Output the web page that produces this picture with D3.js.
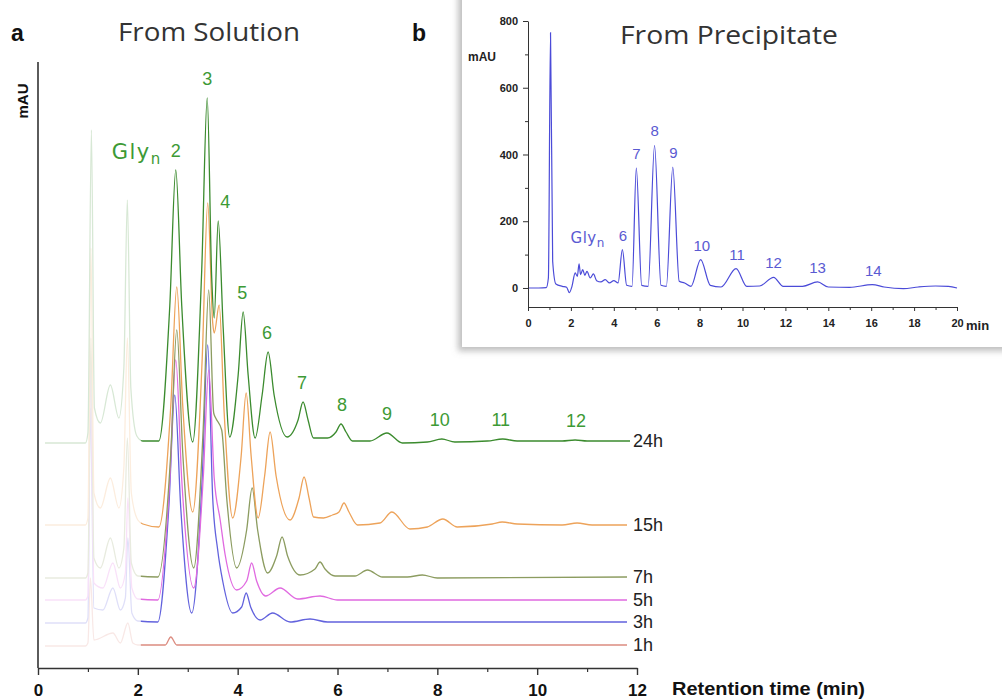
<!DOCTYPE html>
<html>
<head>
<meta charset="utf-8">
<script src="https://cdn.jsdelivr.net/npm/d3@7"></script>
<style>
  body { margin: 0; background: #fff; }
  svg { display: block; }
</style>
</head>
<body>
<svg id="chart" width="1002" height="699"></svg>
<script>
// ---- data: panel a, chromatograms of the solution (time in min, signal in mAU, offset stacked) ----
const trace24h = [[0.14,225],[0.95,225],[1.0,235],[1.07,538],[1.13,260],[1.25,245],[1.45,283],[1.62,250],[1.72,300],[1.79,468],[1.86,280],[1.98,232],[2.1,227],
  [2.42,227],[2.64,362],[2.76,498],[2.88,362],[3.1,226],[3.28,398],[3.39,570],[3.48,390],[3.53,350],[3.61,447],[3.71,340],[3.84,231],
  [4.01,293],[4.11,356],[4.21,293],[4.35,230],[4.49,273],[4.61,316],[4.73,273],[4.99,231],[5.21,248],[5.31,266],[5.41,248],[5.52,230],[5.8,230],
  [5.97,236],[6.07,244],[6.17,236],[6.3,227],[6.65,227],[6.99,235],[7.3,225],[7.8,226],[8.09,229],[8.35,226],[9.0,227],[9.31,229],[9.6,227],
  [10.5,227],[10.76,228],[11.0,227],[11.86,227]];
const trace15h = [[0.14,143],[0.95,143],[1.0,150],[1.06,420],[1.12,175],[1.25,160],[1.45,190],[1.62,160],[1.72,200],[1.79,330],[1.87,175],[2.0,148],[2.1,144],
  [2.42,141],[2.66,262],[2.78,381],[2.9,262],[3.1,156],[3.29,310],[3.4,465],[3.5,345],[3.53,335],[3.63,363],[3.73,255],[3.9,150],
  [4.07,212],[4.17,275],[4.27,212],[4.41,150],[4.54,192],[4.65,236],[4.77,192],[5.05,148],[5.23,170],[5.33,191],[5.43,170],[5.52,151],[5.72,150],[5.9,153],
  [6.03,156],[6.13,165],[6.23,156],[6.4,143],[6.85,145],[7.09,156],[7.45,139],[7.8,141],[8.11,149],[8.4,141],[9.1,144],[9.3,146],[9.6,144],
  [10.5,143],[10.8,145],[11.1,143],[11.8,143]];
const trace7h = [[0.14,90],[0.95,90],[1.0,95],[1.06,330],[1.12,110],[1.25,100],[1.45,130],[1.62,100],[1.72,120],[1.79,230],[1.87,105],[2.0,92],
  [2.4,91],[2.66,215],[2.78,338],[2.9,215],[3.12,100],[3.31,240],[3.42,378],[3.52,255],[3.56,250],[3.68,238],[3.78,170],[3.98,100],
  [4.18,138],[4.29,180],[4.4,138],[4.6,95],[4.78,112],[4.89,131],[5.0,112],[5.25,93],[5.55,99],[5.65,106],[5.75,99],[5.95,92],[6.35,92],
  [6.6,98],[6.9,91],[7.4,91],[7.7,93],[8.0,90],[11.8,91]];
const trace5h = [[0.14,68],[0.95,68],[1.0,72],[1.05,300],[1.12,85],[1.3,80],[1.5,105],[1.65,80],[1.75,95],[1.8,170],[1.88,80],[2.0,69],
  [2.4,68],[2.64,188],[2.76,308],[2.88,188],[3.12,80],[3.31,190],[3.42,298],[3.53,190],[3.65,148],[3.75,113],[3.98,78],
  [4.18,87],[4.28,105],[4.38,87],[4.56,72],[4.85,80],[5.2,69],[5.65,72],[6.0,68],[11.8,68]];
const trace3h = [[0.14,45],[0.95,45],[1.0,50],[1.05,260],[1.12,60],[1.3,58],[1.5,80],[1.65,58],[1.75,70],[1.8,130],[1.88,55],[2.0,47],
  [2.4,46],[2.62,160],[2.74,273],[2.86,160],[3.08,55],[3.29,190],[3.4,323],[3.5,170],[3.6,118],[3.7,87],[3.9,55],
  [4.08,61],[4.17,75],[4.26,61],[4.45,48],[4.7,55],[5.05,46],[5.45,49],[5.8,46],[11.8,46]];
const trace1h = [[0.14,22],[0.95,22],[1.0,25],[1.05,90],[1.12,28],[1.5,35],[1.65,25],[1.8,45],[1.9,25],[2.0,23],
  [2.1,23],[2.55,23],[2.66,31],[2.78,23],[11.8,23]];

const runLabels = ["1h", "3h", "5h", "7h", "15h", "24h"];
const runTraces = [trace1h, trace3h, trace5h, trace7h, trace15h, trace24h];
const runColors = ["#dc8c80", "#6262dd", "#e06ae0", "#8c9c60", "#eda35a", "#3b8b2e"];

// oligomer numbers on the 24h trace
const solPeakLabels = ["2","3","4","5","6","7","8","9","10","11","12"];
const solPeakTimes = [2.76, 3.39, 3.75, 4.09, 4.59, 5.29, 6.09, 6.99, 8.05, 9.27, 10.78];
const xTicksA = [0, 2, 4, 6, 8, 10, 12];

// ---- data: panel b, precipitate chromatogram ----
const precipitate = [[0,0],[0.5,0],[0.85,1],[0.95,30],[1.05,765],[1.15,80],[1.3,12],[1.6,5],[1.8,2],[1.93,-14],[2.05,5],[2.2,45],[2.3,35],
  [2.38,72],[2.45,40],[2.55,55],[2.65,38],[2.75,50],[2.9,30],[3.05,42],[3.2,22],[3.4,18],[3.6,25],[3.8,15],[4.0,22],[4.2,15],[4.4,115],
  [4.6,8],[4.85,5],[5.05,360],[5.3,8],[5.6,5],[5.9,427],[6.2,8],[6.45,5],[6.75,362],[7.05,20],[7.3,15],[7.6,5],[8.05,85],[8.5,8],[9.0,3],
  [9.7,58],[10.2,5],[10.8,6],[11.45,32],[11.9,5],[12.8,5],[13.5,18],[14.0,3],[15.0,2],[16.05,10],[16.6,3],[17.5,-2],[18.2,3],[19.0,6],[19.6,5],[20,0]];
const preLabels = ["6","7","8","9","10","11","12","13","14"];
const preTimes = [4.42, 5.05, 5.9, 6.78, 8.1, 9.75, 11.45, 13.5, 16.1];
const xTicksB = [0,2,4,6,8,10,12,14,16,18,20];
const yTicksB = [0, 200, 400, 600, 800];

const svg = d3.select("#chart");
const defs = svg.append("defs");
const shadow = defs.append("filter").attr("id", "shadow")
  .attr("x", "-10%").attr("y", "-10%").attr("width", "120%").attr("height", "125%");
shadow.append("feDropShadow").attr("dx", -4).attr("dy", 4).attr("stdDeviation", 3)
  .attr("flood-color", "#888").attr("flood-opacity", 0.55);

const axisFont = "Liberation Sans, Arial, sans-serif";

// ================= panel a =================
const x = d3.scaleLinear().domain([0, 12]).range([38, 637]);
const y = d3.scaleLinear().domain([0, 606]).range([668, 62]);

const line = d3.line()
  .x(d => x(d[0]))
  .y(d => y(d[1]))
  .curve(d3.curveMonotoneX);

const traces = svg.append("g");
runTraces.forEach((tr, i) => {
  traces.append("path")
    .attr("d", line(tr))
    .attr("fill", "none")
    .attr("stroke", runColors[i])
    .attr("stroke-width", 1.3);
});

// the first two minutes are washed out in the original figure
svg.append("rect")
  .attr("x", x(0) + 2).attr("y", 50)
  .attr("width", x(2.06) - x(0) - 2).attr("height", 616)
  .attr("fill", "#fff").attr("opacity", 0.8);

// run labels at the right end
runTraces.forEach((tr, i) => {
  const last = tr[tr.length - 1];
  svg.append("text")
    .attr("x", x(11.86) + 3)
    .attr("y", y(last[1]) + 6)
    .attr("font-family", axisFont)
    .attr("font-size", 18)
    .attr("fill", "#222")
    .text(runLabels[i]);
});

// oligomer labels
const labelColor = "#3d9a35";
solPeakLabels.forEach((lab, i) => {
  const t = solPeakTimes[i];
  const near = trace24h.filter(d => Math.abs(d[0] - t) <= 0.15);
  const apex = d3.max(near, d => d[1]);
  svg.append("text")
    .attr("x", x(t))
    .attr("y", Math.min(y(apex) - 13, 431))
    .attr("text-anchor", "middle")
    .attr("font-family", axisFont)
    .attr("font-size", 18)
    .attr("fill", labelColor)
    .text(lab);
});
const gly = svg.append("text")
  .attr("x", x(solPeakTimes[0]) - 14)
  .attr("y", 159)
  .attr("text-anchor", "end")
  .attr("font-family", "DejaVu Sans, sans-serif")
  .attr("font-size", 21)
  .attr("letter-spacing", 1.5)
  .attr("fill", labelColor);
gly.append("tspan").text("Gly");
gly.append("tspan").attr("dy", 5).attr("font-size", 15).text("n");

// axes
const xAxis = svg.append("g")
  .attr("transform", "translate(0,668)")
  .call(d3.axisBottom(x).tickValues(xTicksA).tickFormat(d3.format("d"))
    .tickSize(7).tickSizeOuter(0).tickPadding(9));
xAxis.selectAll("text").attr("font-family", axisFont).attr("font-size", 17)
  .attr("font-weight", "bold").attr("fill", "#111");
xAxis.select(".domain").attr("stroke", "#333").attr("stroke-width", 1.6);
xAxis.selectAll(".tick line").attr("stroke", "#333").attr("stroke-width", 1.4);
svg.append("g")
  .attr("transform", "translate(0,668)")
  .call(d3.axisBottom(x).tickValues(d3.range(1, 12, 2)).tickFormat("").tickSize(4).tickSizeOuter(0))
  .call(g => g.select(".domain").remove())
  .selectAll("line").attr("stroke", "#333").attr("stroke-width", 1.2);

svg.append("line")
  .attr("x1", x(0)).attr("x2", x(0))
  .attr("y1", y(606)).attr("y2", y(0))
  .attr("stroke", "#333").attr("stroke-width", 1.6);

svg.append("text")
  .attr("x", 672).attr("y", 695)
  .attr("font-family", axisFont).attr("font-size", 18).attr("font-weight", "bold")
  .attr("textLength", 193).attr("lengthAdjust", "spacingAndGlyphs")
  .attr("fill", "#111")
  .text("Retention time (min)");
svg.append("text")
  .attr("transform", "translate(28,101) rotate(-90)")
  .attr("text-anchor", "middle")
  .attr("font-family", axisFont).attr("font-size", 15).attr("font-weight", "bold")
  .attr("fill", "#111")
  .text("mAU");

svg.append("text")
  .attr("x", 11).attr("y", 41)
  .attr("font-family", axisFont).attr("font-size", 23).attr("font-weight", "bold")
  .attr("fill", "#111")
  .text("a");
svg.append("text")
  .attr("x", 118).attr("y", 41)
  .attr("font-family", "Open Sans, sans-serif").attr("font-size", 25)
  .attr("textLength", 182).attr("lengthAdjust", "spacingAndGlyphs")
  .attr("fill", "#333")
  .text("From Solution");

// ================= panel b (inset) =================
svg.append("rect")
  .attr("x", 462).attr("y", -20)
  .attr("width", 600).attr("height", 367)
  .attr("fill", "#fff")
  .attr("filter", "url(#shadow)");

const xb = d3.scaleLinear().domain([0, 20]).range([528, 957]);
const yb = d3.scaleLinear().domain([-57, 800]).range([307, 21]);

const lineB = d3.line()
  .x(d => xb(d[0]))
  .y(d => yb(d[1]))
  .curve(d3.curveMonotoneX);

svg.append("path")
  .attr("d", lineB(precipitate))
  .attr("fill", "none")
  .attr("stroke", "#4b4bd8")
  .attr("stroke-width", 1.2);

const xAxisB = svg.append("g")
  .attr("transform", "translate(0,307)")
  .call(d3.axisBottom(xb).tickValues(xTicksB).tickFormat(d3.format("d"))
    .tickSize(4).tickSizeOuter(0).tickPadding(8));
xAxisB.selectAll("text").attr("font-family", axisFont).attr("font-size", 11)
  .attr("font-weight", "bold").attr("fill", "#222");
xAxisB.selectAll(".domain, .tick line").attr("stroke", "#333");
svg.append("g")
  .attr("transform", "translate(0,307)")
  .call(d3.axisBottom(xb).tickValues(d3.range(1, 20, 2)).tickFormat("").tickSize(3).tickSizeOuter(0))
  .call(g => g.select(".domain").remove())
  .selectAll("line").attr("stroke", "#333");

const yAxisB = svg.append("g")
  .attr("transform", "translate(528,0)")
  .call(d3.axisLeft(yb).tickValues(yTicksB).tickFormat(d3.format("d"))
    .tickSize(5).tickSizeOuter(0).tickPadding(5));
yAxisB.selectAll("text").attr("font-family", axisFont).attr("font-size", 11)
  .attr("font-weight", "bold").attr("fill", "#222");
yAxisB.selectAll(".domain, .tick line").attr("stroke", "#333");
svg.append("g")
  .attr("transform", "translate(528,0)")
  .call(d3.axisLeft(yb).tickValues([100, 300, 500, 700]).tickFormat("").tickSize(3).tickSizeOuter(0))
  .call(g => g.select(".domain").remove())
  .selectAll("line").attr("stroke", "#333");

svg.append("text")
  .attr("x", 966).attr("y", 330)
  .attr("font-family", axisFont).attr("font-size", 13).attr("font-weight", "bold")
  .attr("fill", "#222").text("min");
svg.append("text")
  .attr("x", 468).attr("y", 61)
  .attr("font-family", axisFont).attr("font-size", 12).attr("font-weight", "bold")
  .attr("fill", "#222").text("mAU");

const labelColorB = "#5a5ad2";
preLabels.forEach((lab, i) => {
  const t = preTimes[i];
  const near = precipitate.filter(d => Math.abs(d[0] - t) <= 0.12);
  const apex = d3.max(near, d => d[1]);
  svg.append("text")
    .attr("x", xb(t))
    .attr("y", yb(apex) - 9)
    .attr("text-anchor", "middle")
    .attr("font-family", axisFont)
    .attr("font-size", 15)
    .attr("fill", labelColorB)
    .text(lab);
});
const glyB = svg.append("text")
  .attr("x", xb(preTimes[0]) - 18)
  .attr("y", 243)
  .attr("text-anchor", "end")
  .attr("font-family", "DejaVu Sans, sans-serif")
  .attr("font-size", 15)
  .attr("letter-spacing", 0.5)
  .attr("fill", labelColorB);
glyB.append("tspan").text("Gly");
glyB.append("tspan").attr("dy", 4).attr("font-size", 12).text("n");

svg.append("text")
  .attr("x", 412).attr("y", 41)
  .attr("font-family", axisFont).attr("font-size", 23).attr("font-weight", "bold")
  .attr("fill", "#111")
  .text("b");
svg.append("text")
  .attr("x", 620).attr("y", 44)
  .attr("font-family", "Open Sans, sans-serif").attr("font-size", 25)
  .attr("textLength", 218).attr("lengthAdjust", "spacingAndGlyphs")
  .attr("fill", "#333")
  .text("From Precipitate");
</script>
</body>
</html>
